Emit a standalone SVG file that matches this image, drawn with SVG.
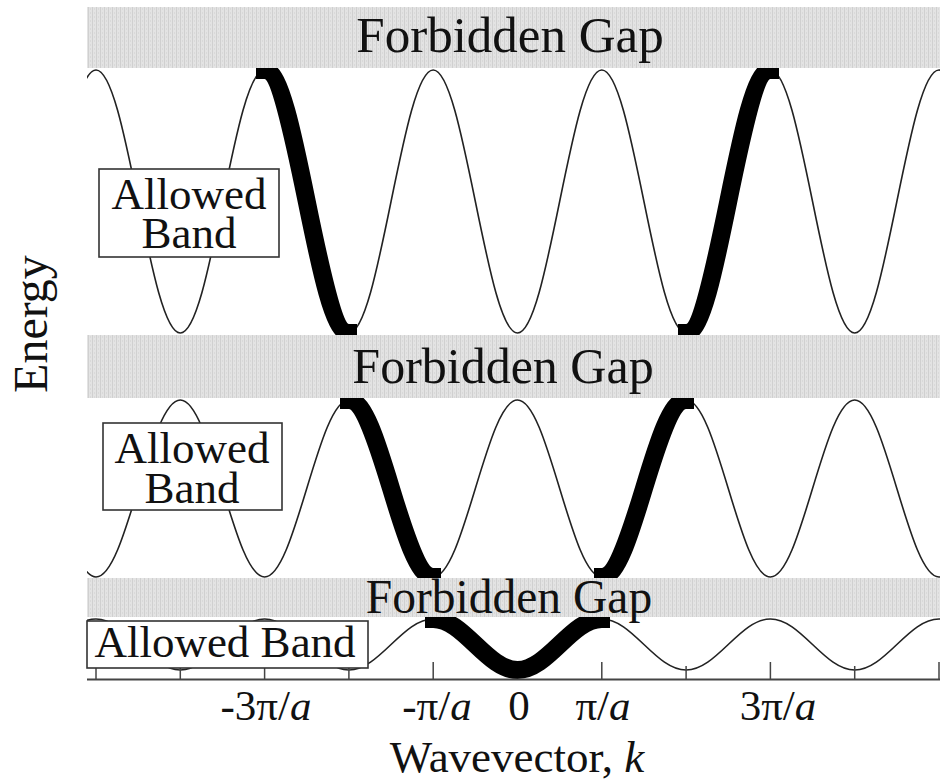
<svg xmlns="http://www.w3.org/2000/svg" width="940" height="782" viewBox="0 0 940 782">
<style>
.thin{fill:none;stroke:#222;stroke-width:1.6}
.thick{fill:none;stroke:#000;stroke-width:18;stroke-linecap:butt}
.gap{fill:url(#gapfill)}
text{font-family:'Liberation Serif', 'Times New Roman', Times, serif;fill:#111}
.box{fill:#fff;stroke:#333;stroke-width:1.6}
.tick{stroke:#444;stroke-width:1.5}
</style>
<defs>
<pattern id="gapfill" width="4" height="4" patternUnits="userSpaceOnUse">
<rect width="4" height="4" fill="#e3e3e3"/>
<rect width="1" height="4" fill="#d0d0d0"/>
<rect x="2" width="1" height="2" fill="#d9d9d9"/>
</pattern>
<clipPath id="plot"><rect x="87" y="0" width="853" height="782"/></clipPath>
</defs>

<g id="connectors" clip-path="url(#plot)">
<path id="band3" class="thin" d="M 11.7,333 c 15.25,0 28.40,-64.13 42.15,-131.5 s 26.89,-131.5 42.15,-131.5 s 28.40,64.13 42.15,131.5 s 26.89,131.5 42.15,131.5 s 28.40,-64.13 42.15,-131.5 s 26.89,-131.5 42.15,-131.5 s 28.40,64.13 42.15,131.5 s 26.89,131.5 42.15,131.5 s 28.40,-64.13 42.15,-131.5 s 26.89,-131.5 42.15,-131.5 s 28.40,64.13 42.15,131.5 s 26.89,131.5 42.15,131.5 s 28.40,-64.13 42.15,-131.5 s 26.89,-131.5 42.15,-131.5 s 28.40,64.13 42.15,131.5 s 26.89,131.5 42.15,131.5 s 28.40,-64.13 42.15,-131.5 s 26.89,-131.5 42.15,-131.5 s 28.40,64.13 42.15,131.5 s 26.89,131.5 42.15,131.5 s 28.40,-64.13 42.15,-131.5 s 26.89,-131.5 42.15,-131.5 s 28.40,64.13 42.15,131.5 s 26.89,131.5 42.15,131.5"/>
<path id="band2" class="thin" d="M 11.7,400 c 15.25,0 28.40,43.16 42.15,88.5 s 26.89,88.5 42.15,88.5 s 28.40,-43.16 42.15,-88.5 s 26.89,-88.5 42.15,-88.5 s 28.40,43.16 42.15,88.5 s 26.89,88.5 42.15,88.5 s 28.40,-43.16 42.15,-88.5 s 26.89,-88.5 42.15,-88.5 s 28.40,43.16 42.15,88.5 s 26.89,88.5 42.15,88.5 s 28.40,-43.16 42.15,-88.5 s 26.89,-88.5 42.15,-88.5 s 28.40,43.16 42.15,88.5 s 26.89,88.5 42.15,88.5 s 28.40,-43.16 42.15,-88.5 s 26.89,-88.5 42.15,-88.5 s 28.40,43.16 42.15,88.5 s 26.89,88.5 42.15,88.5 s 28.40,-43.16 42.15,-88.5 s 26.89,-88.5 42.15,-88.5 s 28.40,43.16 42.15,88.5 s 26.89,88.5 42.15,88.5 s 28.40,-43.16 42.15,-88.5 s 26.89,-88.5 42.15,-88.5"/>
<path id="band1" class="thin" d="M 11.7,670 c 15.25,0 28.40,-12.44 42.15,-25.5 s 26.89,-25.5 42.15,-25.5 s 28.40,12.44 42.15,25.5 s 26.89,25.5 42.15,25.5 s 28.40,-12.44 42.15,-25.5 s 26.89,-25.5 42.15,-25.5 s 28.40,12.44 42.15,25.5 s 26.89,25.5 42.15,25.5 s 28.40,-12.44 42.15,-25.5 s 26.89,-25.5 42.15,-25.5 s 28.40,12.44 42.15,25.5 s 26.89,25.5 42.15,25.5 s 28.40,-12.44 42.15,-25.5 s 26.89,-25.5 42.15,-25.5 s 28.40,12.44 42.15,25.5 s 26.89,25.5 42.15,25.5 s 28.40,-12.44 42.15,-25.5 s 26.89,-25.5 42.15,-25.5 s 28.40,12.44 42.15,25.5 s 26.89,25.5 42.15,25.5 s 28.40,-12.44 42.15,-25.5 s 26.89,-25.5 42.15,-25.5 s 28.40,12.44 42.15,25.5 s 26.89,25.5 42.15,25.5"/>
<path class="thick" d="M 256,70 H 264.6 c 15.25,0 28.40,64.13 42.15,131.5 s 26.89,131.5 42.15,131.5 H 357"/>
<path class="thick" d="M 678,333 H 686.1 c 15.25,0 28.40,-64.13 42.15,-131.5 s 26.89,-131.5 42.15,-131.5 H 779"/>
<path class="thick" d="M 340,400 H 348.9 c 15.25,0 28.40,43.16 42.15,88.5 s 26.89,88.5 42.15,88.5 H 441"/>
<path class="thick" d="M 594,577 H 601.8 c 15.25,0 28.40,-43.16 42.15,-88.5 s 26.89,-88.5 42.15,-88.5 H 694"/>
<path class="thick" d="M 425,619 H 433.2 c 15.25,0 28.40,12.44 42.15,25.5 s 26.89,25.5 42.15,25.5 s 28.40,-12.44 42.15,-25.5 s 26.89,-25.5 42.15,-25.5 H 610"/>
</g>

<g id="gap-top"><rect class="gap" x="87" y="7" width="853" height="61"/><text x="510" y="52" font-size="51" text-anchor="middle">Forbidden Gap</text></g>
<g id="gap-mid"><rect class="gap" x="87" y="335" width="853" height="63"/><text x="503" y="383" font-size="50" text-anchor="middle">Forbidden Gap</text></g>
<g id="gap-bot"><rect class="gap" x="87" y="578" width="853" height="39"/><text x="509" y="613" font-size="47.5" text-anchor="middle">Forbidden Gap</text></g>

<g id="axis">
<line x1="87" y1="679.5" x2="940" y2="679.5" stroke="#444" stroke-width="2"/>
<line class="tick" x1="96" y1="662" x2="96" y2="679"/>
<line class="tick" x1="264.6" y1="662" x2="264.6" y2="679"/>
<line class="tick" x1="433.2" y1="662" x2="433.2" y2="679"/>
<line class="tick" x1="601.8" y1="662" x2="601.8" y2="679"/>
<line class="tick" x1="770.4" y1="662" x2="770.4" y2="679"/>
<line class="tick" x1="939" y1="662" x2="939" y2="679"/>
<line class="tick" x1="180.3" y1="666" x2="180.3" y2="679"/>
<line class="tick" x1="348.9" y1="666" x2="348.9" y2="679"/>
<line class="tick" x1="686.1" y1="666" x2="686.1" y2="679"/>
<line class="tick" x1="854.7" y1="666" x2="854.7" y2="679"/>
<text x="266" y="720" font-size="43" text-anchor="middle">-3π/<tspan font-style="italic">a</tspan></text>
<text x="437" y="720" font-size="43" text-anchor="middle">-π/<tspan font-style="italic">a</tspan></text>
<text x="519" y="720" font-size="43" text-anchor="middle">0</text>
<text x="603" y="720" font-size="43" text-anchor="middle">π/<tspan font-style="italic">a</tspan></text>
<text x="778" y="720" font-size="43" text-anchor="middle">3π/<tspan font-style="italic">a</tspan></text>
<text x="517" y="772" font-size="45" text-anchor="middle">Wavevector, <tspan font-style="italic">k</tspan></text>
<text font-size="48" text-anchor="middle" transform="translate(47,324) rotate(-90)">Energy</text>
</g>

<g id="band-label-top"><rect class="box" x="99" y="169" width="180" height="88"/><text x="189" y="209" font-size="45" text-anchor="middle">Allowed</text><text x="189" y="248" font-size="45" text-anchor="middle">Band</text></g>
<g id="band-label-mid"><rect class="box" x="103" y="423" width="179" height="87"/><text x="192" y="463" font-size="45" text-anchor="middle">Allowed</text><text x="192" y="503" font-size="45" text-anchor="middle">Band</text></g>
<g id="band-label-bot"><rect class="box" x="87" y="621" width="281" height="47"/><text x="225" y="657" font-size="45" text-anchor="middle">Allowed Band</text></g>
</svg>
